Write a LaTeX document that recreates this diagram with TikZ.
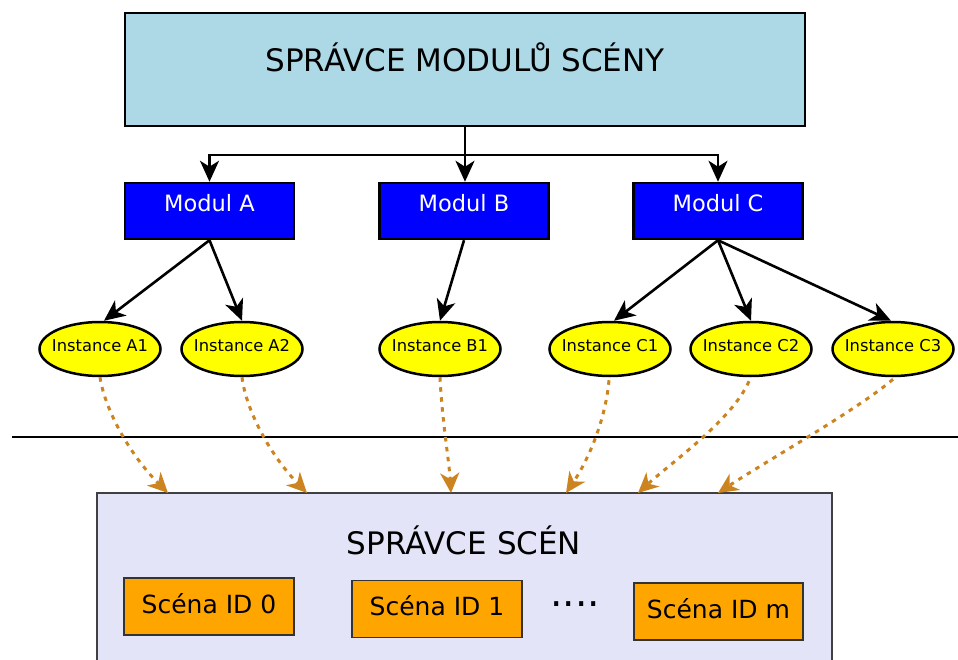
\documentclass[tikz,border=0pt]{standalone}
\usepackage{fontspec}
\setmainfont{DejaVu Sans}
\usetikzlibrary{arrows.meta,shapes.geometric,calc}

\definecolor{topfill}{HTML}{ADD8E6}
\definecolor{modfill}{HTML}{0000FF}
\definecolor{instfill}{HTML}{FFFF00}
\definecolor{scfill}{HTML}{E4E4F8}
\definecolor{scenefill}{HTML}{FFA500}
\definecolor{linkcol}{RGB}{204,132,32}

\tikzset{
  manager/.style={draw=black, line width=2.5pt, fill=topfill, minimum width=680pt, minimum height=113pt, inner sep=0pt},
  modbox/.style={draw=black, line width=2.5pt, fill=modfill, minimum width=169pt, minimum height=56pt, inner sep=0pt},
  instnode/.style={ellipse, draw=black, line width=2.5pt, fill=instfill, minimum width=121pt, minimum height=54pt, inner sep=0pt},
  scbox/.style={draw=black!75, line width=2pt, fill=scfill, minimum width=735pt, minimum height=185pt, inner sep=0pt},
  scenebox/.style={draw=black!80, line width=1.8pt, fill=scenefill, minimum width=170pt, minimum height=57pt, inner sep=0pt},
  bigtxt/.style={font=\fontsize{31}{37}\selectfont},
  modtxt/.style={font=\fontsize{22.5}{27}\selectfont, text=white},
  insttxt/.style={font=\fontsize{16.3}{19}\selectfont},
  scenetxt/.style={font=\fontsize{25}{30}\selectfont},
  edge/.style={draw=black, line width=2.6pt, -{Stealth[length=21pt, width=19pt, inset=6pt]}},
  link/.style={draw=linkcol, line width=3pt, dash pattern=on 4.5pt off 5.5pt,
    -{Stealth[length=20pt, width=19pt, inset=6pt, sep=0pt]}},
}

\begin{document}
\begin{tikzpicture}[x=1pt, y=-1pt]
\useasboundingbox (0,0) rectangle (958,660);

% scene manager (bottom part)
\node[scbox] (sm) at (464.5,585.5) {};
\node[bigtxt] (smlabel) at (464,540) {SPRÁVCE SCÉN};
\node[scenebox, label={[scenetxt, yshift=3pt]center:Scéna ID 0}] (s0) at (209,606.5) {};
\node[scenebox, label={[scenetxt, yshift=3pt]center:Scéna ID 1}] (s1) at (437,609) {};
\node[scenebox, minimum width=169pt, label={[scenetxt, yshift=3pt]center:Scéna ID m}] (sm2) at (718.5,611.5) {};
\node[font=\fontsize{39}{40}\selectfont, anchor=base, inner sep=0pt] (dots) at (575,606.5) {....};

% separator
\coordinate (sepL) at (12,437);
\coordinate (sepR) at (958,437);
\draw[line width=2.5pt] (sepL) -- (sepR);

% module manager
\node[manager, label={[bigtxt, yshift=12pt]center:SPRÁVCE MODULŮ SCÉNY}] (top) at (465,69.5) {};

% modules
\node[modbox, label={[modtxt, yshift=8pt]center:Modul A}] (mA) at (209.5,211) {};
\node[modbox, label={[modtxt, yshift=8pt]center:Modul B}] (mB) at (464,211) {};
\node[modbox, label={[modtxt, yshift=8pt]center:Modul C}] (mC) at (718,211) {};

\coordinate (j) at (465,155);
\draw[line width=2.6pt] (top.south) -- (j);
\draw[edge] (j) -| (mA.north);
\draw[edge] (j) -- (j |- mB.north);
\draw[edge] (j) -| (mC.north);

% instances
\node[instnode, label={[insttxt, yshift=3pt]center:Instance A1}] (a1) at (100,349) {};
\node[instnode, label={[insttxt, yshift=3pt]center:Instance A2}] (a2) at (242,349) {};
\node[instnode, label={[insttxt, yshift=3pt]center:Instance B1}] (b1) at (440,349) {};
\node[instnode, label={[insttxt, yshift=3pt]center:Instance C1}] (c1) at (610,349) {};
\node[instnode, label={[insttxt, yshift=3pt]center:Instance C2}] (c2) at (751,349) {};
\node[instnode, label={[insttxt, yshift=3pt]center:Instance C3}] (c3) at (893,349) {};

\draw[edge] (mA.south) -- ($(a1.north)+(4,0)$);
\draw[edge] (mA.south) -- (a2.north);
\draw[edge] (mB.south) -- (b1.north);
\draw[edge] (mC.south) -- ($(c1.north)+(4,0)$);
\draw[edge] (mC.south) -- (c2.north);
\draw[edge] (mC.south) -- ($(c3.north)+(-2,0)$);

% links from instances to the scene manager
\coordinate (t1) at (168,493);
\coordinate (t2) at (307,493);
\coordinate (t3) at (451,493);
\coordinate (t4) at (566,493);
\coordinate (t5) at (638,493);
\coordinate (t6) at (718,493);
\draw[link] (a1.south) .. controls (105,410) and (130,455) .. (t1);
\draw[link] (a2.south) .. controls (246,410) and (270,455) .. (t2);
\draw[link] (b1.south) .. controls (442,420) and (449,460) .. (t3);
\draw[link] ($(c1.south)+(-1,3)$) .. controls (605,425) and (585,465) .. (t4);
\draw[link] ($(c2.south)+(-2,4)$) .. controls (732,420) and (672,462) .. (t5);
\draw[link] ($(c3.south)+(0,2)$) .. controls (860,408) and (765,462) .. (t6);
\end{tikzpicture}
\end{document}
